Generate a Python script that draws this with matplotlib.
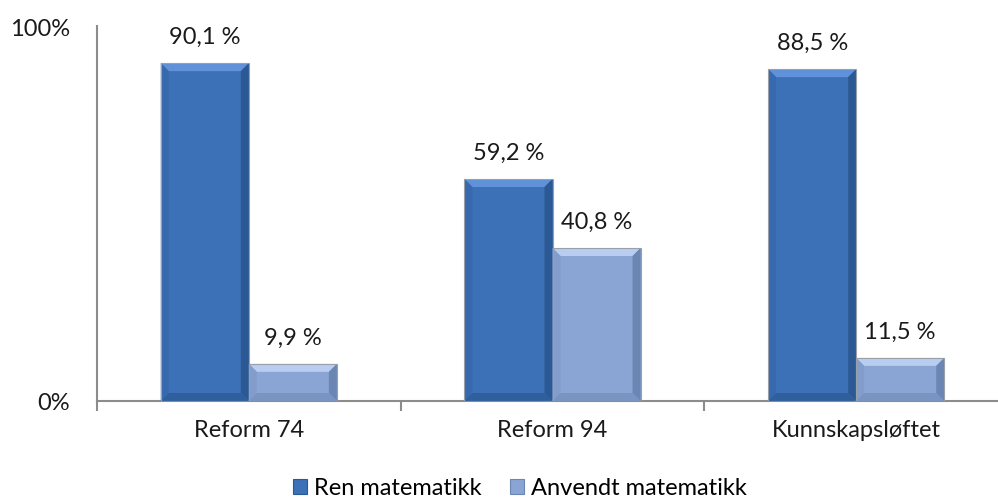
import numpy as np
import matplotlib.pyplot as plt
from matplotlib.patches import Polygon, Patch

plt.rcParams['font.family'] = ['Lato', 'DejaVu Sans']

categories = ["Reform 74", "Reform 94", "Kunnskapsløftet"]
ren = [90.1, 59.2, 88.5]
anvendt = [9.9, 40.8, 11.5]
series_names = ["Ren matematikk", "Anvendt matematikk"]

# base, top bevel, left bevel, right bevel, bottom bevel
dark = ["#3c71b7", "#5f92d8", "#3769ae", "#2c5993", "#2f5f9c"]
light = ["#8aa5d3", "#b8cdef", "#829dcb", "#6b86b3", "#7a94c2"]

fs = 17

fig = plt.figure(figsize=(9.98, 5.02), dpi=100)
W, H = 998, 502
ax = fig.add_axes([97 / W, (502 - 402) / H, 911 / W, 375 / H])

x = np.arange(len(categories)) + 0.5
bw = 0.29


def bevel_bar(ax, xc, h, cols):
    bars = ax.bar(xc, h, width=bw, color=cols[0], edgecolor="none", zorder=2)
    # bevel size in data units (about 8 px)
    bx = 8 / (911 / 3)
    by = 8 / 3.75
    for r in bars:
        x0, x1 = r.get_x(), r.get_x() + r.get_width()
        y0, y1 = 0, r.get_height()
        byy = min(by, (y1 - y0) / 2)
        faces = [
            ([(x0, y1), (x1, y1), (x1 - bx, y1 - byy), (x0 + bx, y1 - byy)], cols[1]),
            ([(x0, y0), (x0, y1), (x0 + bx, y1 - byy), (x0 + bx, y0 + byy)], cols[2]),
            ([(x1, y0), (x1, y1), (x1 - bx, y1 - byy), (x1 - bx, y0 + byy)], cols[3]),
            ([(x0, y0), (x1, y0), (x1 - bx, y0 + byy), (x0 + bx, y0 + byy)], cols[4]),
        ]
        for pts, c in faces:
            ax.add_patch(Polygon(pts, closed=True, facecolor=c, edgecolor="none",
                                 zorder=3))
        ax.add_patch(plt.Rectangle((x0, y0), x1 - x0, y1 - y0, fill=False,
                                   edgecolor="#9aa0aa", linewidth=0.8, zorder=4))
    return bars


bevel_bar(ax, x - bw / 2, ren, dark)
bevel_bar(ax, x + bw / 2, anvendt, light)

for xi, v in zip(x - bw / 2, ren):
    ax.text(xi, v + 4.3, f"{v:.1f} %".replace(".", ","), ha="center",
            va="bottom", fontsize=fs, color="#1a1a1a")
for xi, v in zip(x + bw / 2, anvendt):
    ax.text(xi, v + 4.3, f"{v:.1f} %".replace(".", ","), ha="center",
            va="bottom", fontsize=fs, color="#1a1a1a")

ax.set_xlim(0, 3)
ax.set_ylim(0, 100)
ax.set_yticks([0, 100])
ax.set_yticklabels(["0%", "100%"], fontsize=fs, color="#1a1a1a")
ax.tick_params(axis="y", length=0, pad=19.5)
ax.set_xticks([0, 1, 2, 3])
ax.set_xticklabels([])
ax.set_xticks(x, minor=True)
ax.set_xticklabels(categories, minor=True, fontsize=fs, color="#1a1a1a")
ax.tick_params(axis="x", which="major", length=7, width=1.5, color="#8c8c8c")
ax.tick_params(axis="x", which="minor", length=0, pad=13)

for s in ["top", "right"]:
    ax.spines[s].set_visible(False)
for s in ["left", "bottom"]:
    ax.spines[s].set_color("#8c8c8c")
    ax.spines[s].set_linewidth(1.5)

handles = [Patch(facecolor=dark[0], edgecolor=dark[3], linewidth=0.8),
           Patch(facecolor=light[0], edgecolor=light[3], linewidth=0.8)]
fig.legend(handles, series_names, loc="center", bbox_to_anchor=(520 / W, 1 - 489 / H),
           ncol=2, frameon=False, fontsize=fs, handlelength=0.6, handleheight=0.6,
           handletextpad=0.3, columnspacing=1.2, borderaxespad=0)

fig.savefig("out.png", dpi=100)
